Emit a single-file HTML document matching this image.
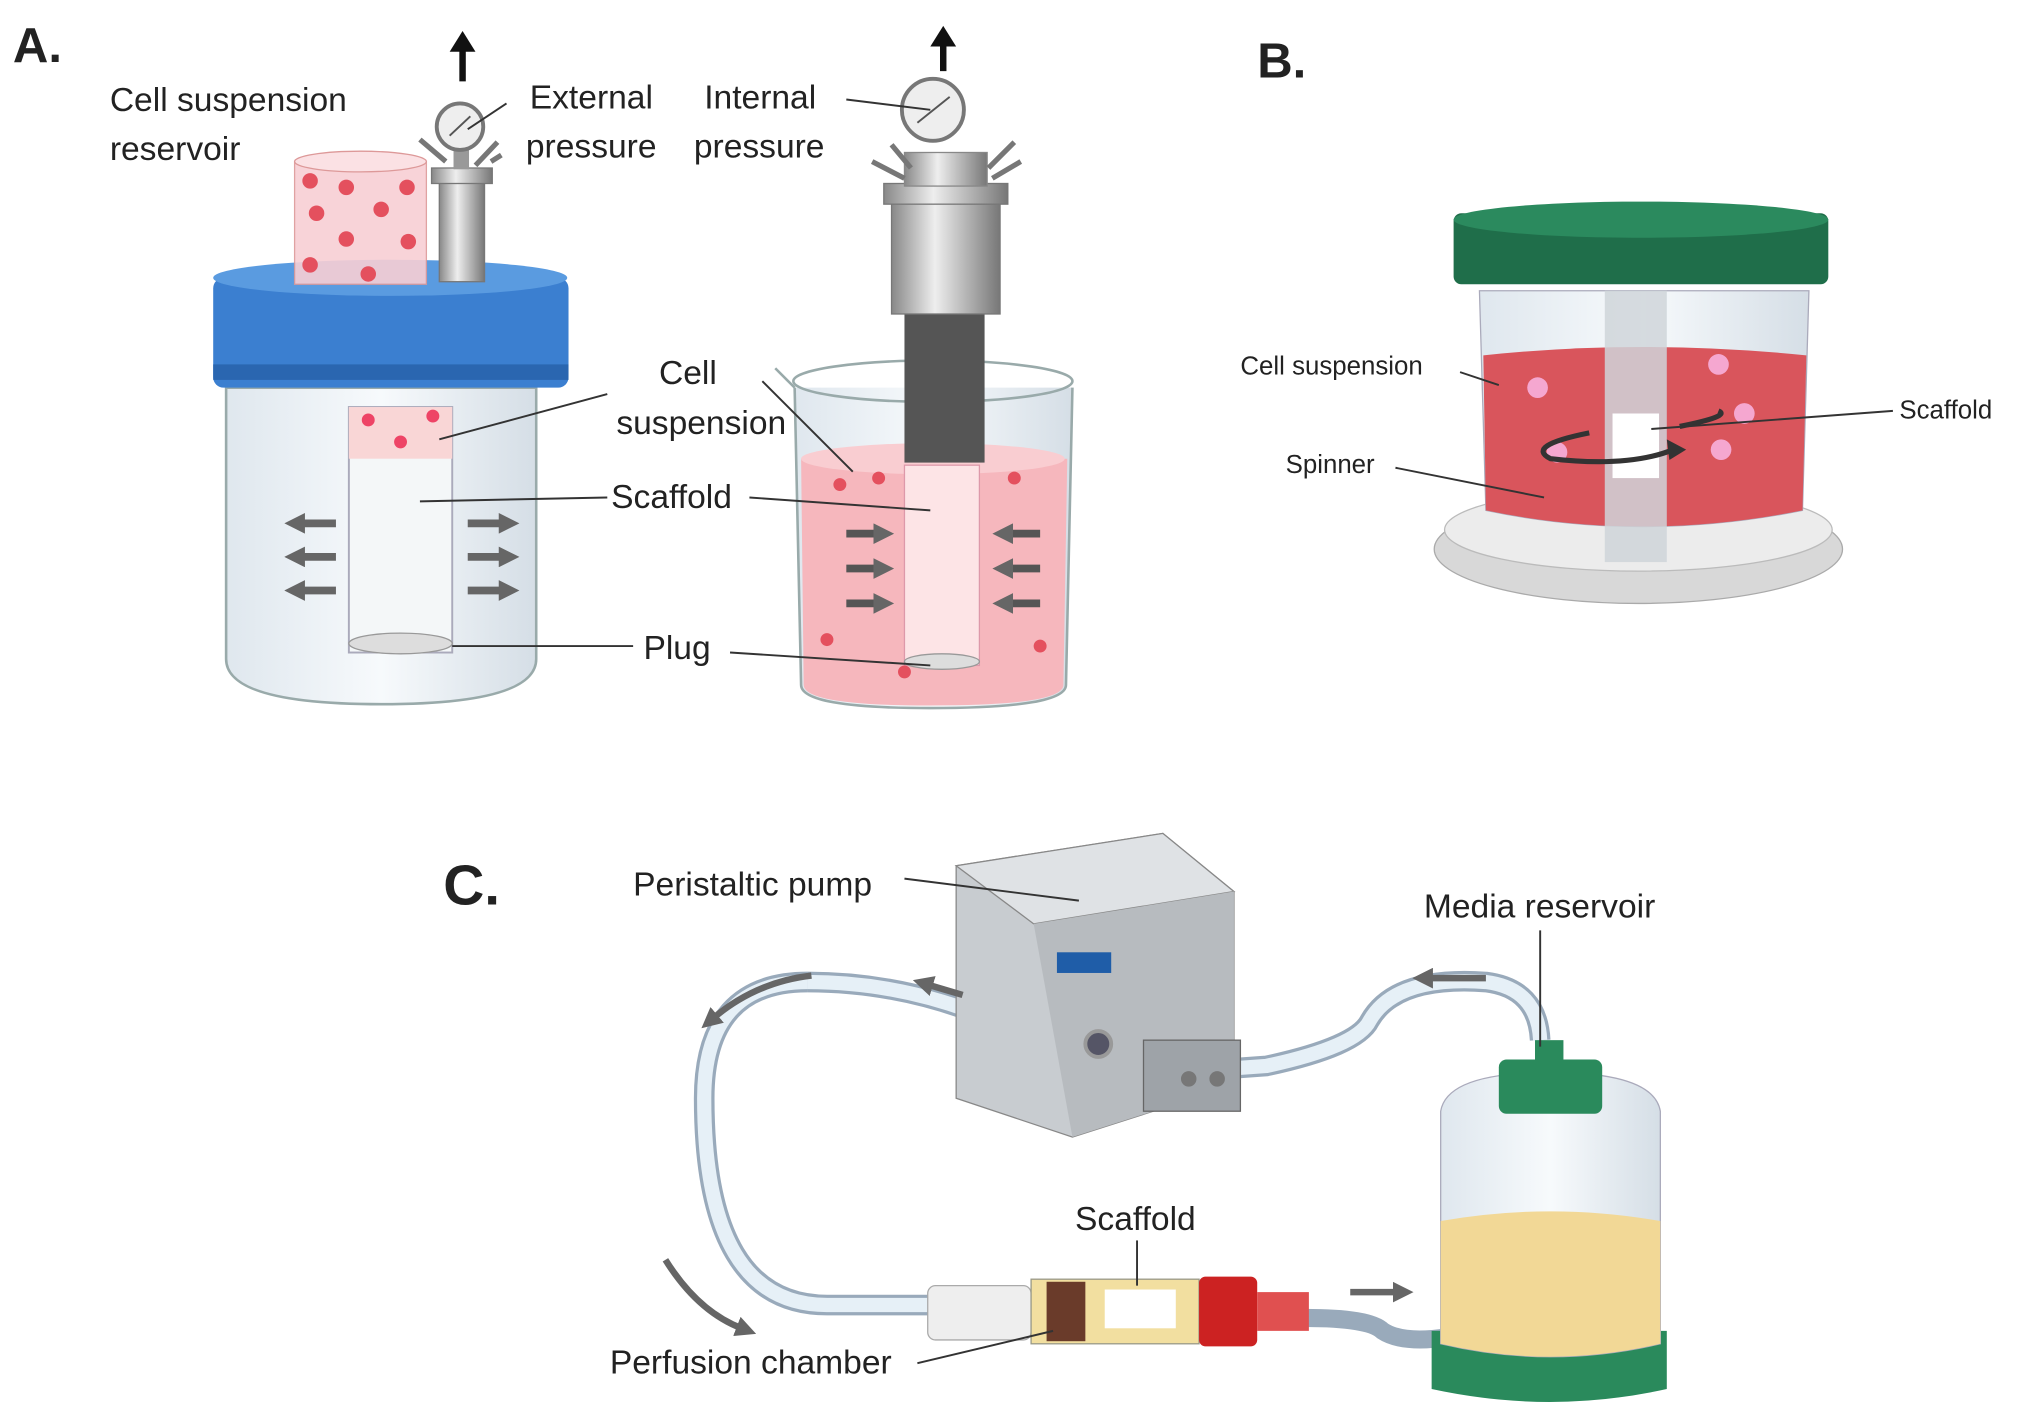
<!DOCTYPE html>
<html><head><meta charset="utf-8"><style>
html,body{margin:0;padding:0;background:#fff;}
svg{display:block;}
text{font-family:"Liberation Sans",sans-serif;fill:#222;}
</style></head><body>
<svg width="2026" height="1411" viewBox="0 0 1568 1092" xmlns="http://www.w3.org/2000/svg">
<defs>
<marker id="ah" markerUnits="userSpaceOnUse" markerWidth="16" markerHeight="16" refX="4" refY="8" orient="auto"><path d="M0,0 L16,8 L0,16 z" fill="#666"/></marker>
<linearGradient id="steel" x1="0" x2="1"><stop offset="0" stop-color="#888"/><stop offset=".4" stop-color="#eee"/><stop offset="1" stop-color="#777"/></linearGradient>
<linearGradient id="glass" x1="0" x2="1"><stop offset="0" stop-color="#dfe7ee"/><stop offset=".5" stop-color="#f7fafc"/><stop offset="1" stop-color="#d5dee6"/></linearGradient>
</defs>
<!-- Panel A -->
<text x="10" y="48" font-size="38" font-weight="bold">A.</text>
<path d="M175,300 L175,510 Q175,545 295,545 Q415,545 415,510 L415,300 Z" fill="url(#glass)" stroke="#9aa" stroke-width="2"/>
<rect x="270" y="315" width="80" height="190" fill="#f4f7f8" stroke="#aab" stroke-width="1.5"/>
<rect x="270" y="315" width="80" height="40" fill="#f9d6d6"/>
<circle cx="285" cy="325" r="5" fill="#e46"/><circle cx="335" cy="322" r="5" fill="#e46"/><circle cx="310" cy="342" r="5" fill="#e46"/>
<ellipse cx="310" cy="498" rx="40" ry="8" fill="#ddd" stroke="#999"/>
<rect x="165" y="215" width="275" height="85" rx="8" fill="#3b7fd0"/>
<ellipse cx="302" cy="215" rx="137" ry="14" fill="#5a9be0"/>
<rect x="165" y="282" width="275" height="12" fill="#2a66b0"/>
<rect x="228" y="125" width="102" height="95" fill="#f8cfd4" stroke="#d99" opacity=".9"/>
<ellipse cx="279" cy="125" rx="51" ry="8" fill="#fbe1e4" stroke="#d99"/>
<g fill="#e4505e"><circle cx="240" cy="140" r="6"/><circle cx="268" cy="145" r="6"/><circle cx="315" cy="145" r="6"/><circle cx="245" cy="165" r="6"/><circle cx="295" cy="162" r="6"/><circle cx="268" cy="185" r="6"/><circle cx="316" cy="187" r="6"/><circle cx="240" cy="205" r="6"/><circle cx="285" cy="212" r="6"/></g>
<rect x="340" y="140" width="35" height="78" fill="url(#steel)" stroke="#777"/>
<rect x="334" y="130" width="47" height="12" fill="url(#steel)" stroke="#777"/>
<rect x="351" y="115" width="12" height="16" fill="#999"/>
<path d="M325,108 L345,125 M385,110 L368,128 M380,125 L388,120" stroke="#777" stroke-width="4"/>
<circle cx="356" cy="98" r="18" fill="#eee" stroke="#777" stroke-width="3"/>
<line x1="348" y1="105" x2="364" y2="90" stroke="#555" stroke-width="1.5"/>
<line x1="358" y1="63" x2="358" y2="35" stroke="#111" stroke-width="5"/><path d="M348,40 L358,24 L368,40 z" fill="#111"/>
<g stroke="#666" stroke-width="6" fill="none" marker-end="url(#ah)">
<line x1="260" y1="405" x2="232" y2="405"/><line x1="260" y1="431" x2="232" y2="431"/><line x1="260" y1="457" x2="232" y2="457"/>
<line x1="362" y1="405" x2="390" y2="405"/><line x1="362" y1="431" x2="390" y2="431"/><line x1="362" y1="457" x2="390" y2="457"/></g>
<!-- right beaker -->
<path d="M615,300 L620,530 Q620,548 720,548 Q825,548 825,530 L830,300" fill="url(#glass)" stroke="#9aa" stroke-width="2"/>
<path d="M620,355 L622,530 Q622,546 720,546 Q823,546 823,530 L826,355 Z" fill="#f6b7bd"/>
<ellipse cx="722" cy="355" rx="102" ry="12" fill="#f9cdd1"/>
<ellipse cx="722" cy="295" rx="108" ry="16" fill="none" stroke="#9aa" stroke-width="2"/>
<path d="M615,300 Q605,290 600,285" stroke="#9aa" stroke-width="2" fill="none"/>
<rect x="700" y="360" width="58" height="155" fill="#fde4e6" stroke="#d9a"/>
<ellipse cx="729" cy="512" rx="29" ry="6" fill="#ddd" stroke="#999"/>
<rect x="700" y="240" width="62" height="118" fill="#555"/>
<rect x="690" y="155" width="84" height="88" fill="url(#steel)" stroke="#777"/>
<rect x="684" y="142" width="96" height="16" fill="url(#steel)" stroke="#777"/>
<rect x="700" y="118" width="64" height="26" fill="url(#steel)" stroke="#888"/>
<path d="M675,125 L700,138 M690,112 L705,130 M785,110 L765,130 M790,125 L768,138" stroke="#777" stroke-width="4"/>
<circle cx="722" cy="85" r="24" fill="#eee" stroke="#777" stroke-width="3"/>
<line x1="710" y1="95" x2="735" y2="75" stroke="#555" stroke-width="1.5"/>
<line x1="730" y1="55" x2="730" y2="30" stroke="#111" stroke-width="5"/><path d="M720,36 L730,20 L740,36 z" fill="#111"/>
<g fill="#e4505e"><circle cx="650" cy="375" r="5"/><circle cx="680" cy="370" r="5"/><circle cx="785" cy="370" r="5"/><circle cx="805" cy="500" r="5"/><circle cx="640" cy="495" r="5"/><circle cx="700" cy="520" r="5"/></g>
<g stroke="#555" stroke-width="6" fill="none" marker-end="url(#ah)">
<line x1="655" y1="413" x2="680" y2="413"/><line x1="655" y1="440" x2="680" y2="440"/><line x1="655" y1="467" x2="680" y2="467"/>
<line x1="805" y1="413" x2="780" y2="413"/><line x1="805" y1="440" x2="780" y2="440"/><line x1="805" y1="467" x2="780" y2="467"/></g>
<g font-size="26">
<text x="85" y="86">Cell suspension</text><text x="85" y="124">reservoir</text>
<text x="410" y="84">External</text><text x="407" y="122">pressure</text>
<text x="545" y="84">Internal</text><text x="537" y="122">pressure</text>
<text x="510" y="297">Cell</text><text x="477" y="336">suspension</text>
<text x="473" y="393">Scaffold</text><text x="498" y="510">Plug</text></g>
<g stroke="#333" stroke-width="1.5">
<line x1="392" y1="80" x2="362" y2="100"/><line x1="470" y1="305" x2="340" y2="340"/>
<line x1="470" y1="385" x2="325" y2="388"/><line x1="490" y1="500" x2="350" y2="500"/>
<line x1="590" y1="295" x2="660" y2="365"/><line x1="580" y1="385" x2="720" y2="395"/>
<line x1="565" y1="505" x2="720" y2="515"/><line x1="655" y1="77" x2="720" y2="85"/></g>
<!-- Panel B -->
<text x="973" y="60" font-size="38" font-weight="bold">B.</text>
<ellipse cx="1268" cy="425" rx="158" ry="42" fill="#d8d8d8" stroke="#aaa"/>
<ellipse cx="1268" cy="410" rx="150" ry="32" fill="#ececec" stroke="#bbb"/>
<path d="M1145,225 L1150,395 Q1270,420 1395,395 L1400,225 Z" fill="url(#glass)" stroke="#aab"/>
<path d="M1148,275 L1150,395 Q1270,420 1395,395 L1398,275 Q1270,262 1148,275 Z" fill="#d9555c"/>
<rect x="1242" y="225" width="48" height="210" fill="#cfd5d9" opacity=".85"/>
<rect x="1248" y="320" width="36" height="50" fill="#fff"/>
<g fill="#f5a7d0"><circle cx="1190" cy="300" r="8"/><circle cx="1330" cy="282" r="8"/><circle cx="1350" cy="320" r="8"/><circle cx="1205" cy="350" r="8"/><circle cx="1332" cy="348" r="8"/></g>
<path d="M1230,335 Q1180,345 1200,355 Q1260,362 1295,348" stroke="#333" stroke-width="4" fill="none"/>
<path d="M1290,340 L1305,348 L1292,356 z" fill="#333"/>
<path d="M1300,330 Q1340,322 1330,318" stroke="#333" stroke-width="4" fill="none"/>
<rect x="1125" y="165" width="290" height="55" rx="6" fill="#1f6e4a"/>
<ellipse cx="1270" cy="170" rx="145" ry="14" fill="#2b8a5e"/>
<g font-size="20"><text x="960" y="290">Cell suspension</text><text x="995" y="366">Spinner</text><text x="1470" y="324">Scaffold</text></g>
<g stroke="#333" stroke-width="1.5"><line x1="1130" y1="288" x2="1160" y2="298"/><line x1="1080" y1="362" x2="1195" y2="385"/><line x1="1465" y1="318" x2="1278" y2="332"/></g>
<!-- Panel C -->
<text x="343" y="700" font-size="44" font-weight="bold">C.</text>
<path d="M625,760 Q545,760 545,850 Q545,1010 640,1010 L720,1010" stroke="#9ab" stroke-width="16" fill="none"/>
<path d="M625,760 Q545,760 545,850 Q545,1010 640,1010 L720,1010" stroke="#e6f0f7" stroke-width="11" fill="none"/>
<path d="M625,760 Q700,760 770,790 Q840,820 910,830 L980,825 Q1050,810 1060,790 Q1080,755 1150,760 Q1190,765 1192,805" stroke="#9ab" stroke-width="16" fill="none"/>
<path d="M625,760 Q700,760 770,790 Q840,820 910,830 L980,825 Q1050,810 1060,790 Q1080,755 1150,760 Q1190,765 1192,805" stroke="#e6f0f7" stroke-width="11" fill="none"/>
<path d="M1010,1020 Q1060,1020 1070,1030 Q1085,1040 1120,1035" stroke="#9ab" stroke-width="14" fill="none"/>
<path d="M740,670 L900,645 L955,690 L955,840 L830,880 L740,850 Z" fill="#c8ccd0" stroke="#888"/>
<path d="M740,670 L900,645 L955,690 L800,715 Z" fill="#dfe2e5" stroke="#888"/>
<path d="M800,715 L955,690 L955,840 L830,880 Z" fill="#b7bbbf"/>
<rect x="818" y="737" width="42" height="16" fill="#1f5da8"/>
<rect x="885" y="805" width="75" height="55" fill="#9ea3a8" stroke="#666"/>
<circle cx="920" cy="835" r="6" fill="#777"/><circle cx="942" cy="835" r="6" fill="#777"/>
<circle cx="850" cy="808" r="10" fill="#556" stroke="#999" stroke-width="3"/>
<path d="M1108,1030 L1108,1075 Q1200,1095 1290,1075 L1290,1030 Z" fill="#2a8a5c"/>
<path d="M1115,860 Q1120,830 1200,830 Q1280,830 1285,860 L1285,1040 Q1200,1060 1115,1040 Z" fill="url(#glass)" stroke="#aab"/>
<path d="M1115,945 Q1200,930 1285,945 L1285,1040 Q1200,1060 1115,1040 Z" fill="#f2d896"/>
<rect x="1160" y="820" width="80" height="42" rx="6" fill="#2a8a5c"/>
<rect x="1188" y="805" width="22" height="22" fill="#2a8a5c"/>
<rect x="718" y="995" width="80" height="42" rx="6" fill="#eee" stroke="#aaa"/>
<rect x="798" y="990" width="130" height="50" fill="#f2dfa0" stroke="#998"/>
<rect x="810" y="992" width="30" height="46" fill="#6a3b2a"/>
<rect x="855" y="998" width="55" height="30" fill="#fff"/>
<rect x="928" y="988" width="45" height="54" rx="5" fill="#cc2222"/>
<rect x="973" y="1000" width="40" height="30" fill="#e05050"/>
<g stroke="#666" stroke-width="5" fill="none" marker-end="url(#ah)">
<line x1="1150" y1="757" x2="1105" y2="757"/><line x1="745" y1="770" x2="718" y2="762"/>
<line x1="1045" y1="1000" x2="1082" y2="1000"/>
<path d="M628,755 Q585,760 552,788"/><path d="M515,975 Q540,1015 574,1028"/></g>
<g font-size="26"><text x="490" y="693">Peristaltic pump</text><text x="1102" y="710">Media reservoir</text>
<text x="832" y="952">Scaffold</text><text x="472" y="1063">Perfusion chamber</text></g>
<g stroke="#333" stroke-width="1.5"><line x1="700" y1="680" x2="835" y2="697"/><line x1="1192" y1="720" x2="1192" y2="810"/>
<line x1="880" y1="960" x2="880" y2="995"/><line x1="710" y1="1055" x2="815" y2="1030"/></g>
</svg>
</body></html>
